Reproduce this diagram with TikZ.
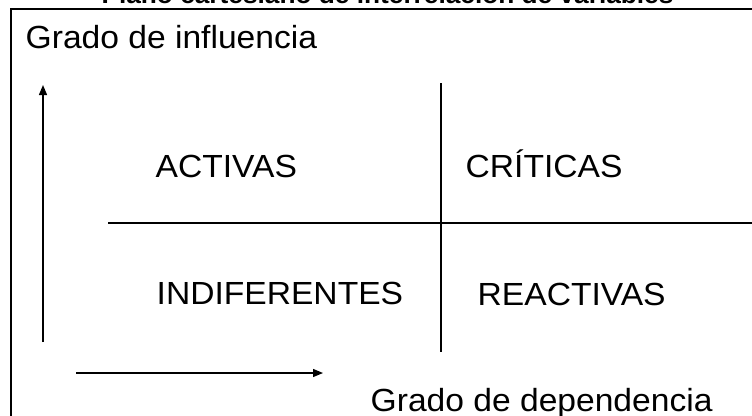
\documentclass[tikz,border=0pt]{standalone}
\usepackage{fontspec}
\setmainfont{Liberation Sans}
\usetikzlibrary{arrows.meta}
\tikzset{every picture/.style={line width=1.3pt}}
\tikzset{
	etiqueta/.style={inner sep=0pt, anchor=base west, xscale=1.05, font=\fontsize{32}{38}\selectfont},
	titulo/.style={inner sep=0pt, anchor=base, xscale=1.05, font=\bfseries\fontsize{25}{30}\selectfont},
	flecha/.style={-{Triangle[length=10pt,width=8pt]}},
	marco/.style={line width=2pt}}

\begin{document}
\begin{tikzpicture}[x=1pt,y=1pt,yscale=-1,xscale=1]
	\useasboundingbox (0,0) rectangle (752,415);
	\clip (0,0) rectangle (752,415);

	%Shape: Frame (left and top sides)
	\coordinate (marcoAbajo) at (11,420);
	\coordinate (marcoEsq) at (11,9);
	\coordinate (marcoDer) at (760,9);
	\draw [marco] (marcoAbajo) -- (marcoEsq) -- (marcoDer) ;

	%Straight Lines: quadrant dividers
	\coordinate (divIzq) at (108,223);
	\coordinate (divDer) at (760,223);
	\draw    (divIzq) -- (divDer) ;
	\coordinate (divArriba) at (441,83);
	\coordinate (divAbajo) at (441,352);
	\draw    (divArriba) -- (divAbajo) ;

	%Straight Lines: axes
	\coordinate (infBase) at (43,342);
	\coordinate (infPunta) at (43,85);
	\draw [flecha]   (infBase) -- (infPunta) ;
	\coordinate (depBase) at (76,373);
	\coordinate (depPunta) at (323,373);
	\draw [flecha]   (depBase) -- (depPunta) ;

	% Text Node
	\node [titulo] (tituloPlano) at (387.5,3.5) {Plano cartesiano de interrelación de variables};
	% Text Node
	\node [etiqueta] (gradoInf) at (25,48) {Grado de influencia};
	% Text Node
	\node [etiqueta] (gradoDep) at (370,411) {Grado de dependencia};
	% Text Node
	\node [etiqueta] (activas) at (155,177) {ACTIVAS};
	% Text Node
	\node [etiqueta] (criticas) at (465,177) {CRÍTICAS};
	% Text Node
	\node [etiqueta] (indif) at (156,304) {INDIFERENTES};
	% Text Node
	\node [etiqueta] (reactivas) at (477,305) {REACTIVAS};

\end{tikzpicture}
\end{document}
